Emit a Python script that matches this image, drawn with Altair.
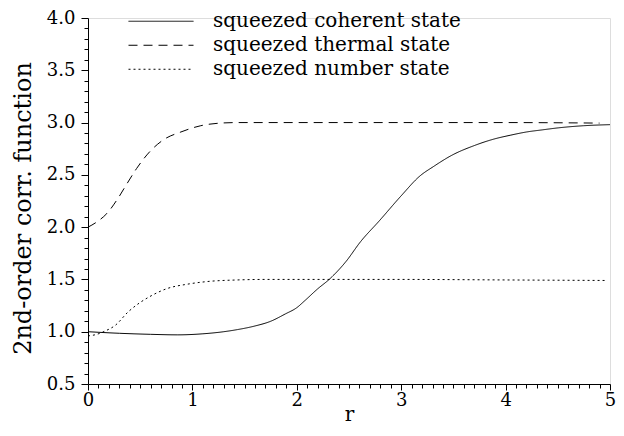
import altair as alt
import pandas as pd

# squeezed coherent state (solid)
r_coh = [0.0, 0.3, 0.6, 0.86, 1.1, 1.3, 1.43, 1.6, 1.75, 1.89, 2.0, 2.08, 2.2, 2.31, 2.47, 2.61, 2.79, 3.0, 3.18, 3.31, 3.49, 3.7, 3.88, 4.05, 4.2, 4.35, 4.51, 4.75, 5.0]
g_coh = [1.0, 0.985, 0.975, 0.97, 0.98, 1.0, 1.02, 1.055, 1.10, 1.17, 1.23, 1.30, 1.41, 1.50, 1.67, 1.86, 2.06, 2.30, 2.49, 2.58, 2.69, 2.78, 2.84, 2.88, 2.91, 2.93, 2.95, 2.97, 2.98]

# squeezed thermal state (dashed)
r_th = [0.0, 0.085, 0.18, 0.29, 0.37, 0.465, 0.59, 0.73, 0.89, 1.08, 1.27, 1.43, 1.7, 2.0, 3.0, 4.0, 4.9]
g_th = [2.0, 2.05, 2.13, 2.28, 2.41, 2.56, 2.72, 2.84, 2.91, 2.97, 2.995, 3.0, 3.0, 3.0, 3.0, 3.0, 2.995]

# squeezed number state (dotted)
r_num = [0.0, 0.085, 0.16, 0.26, 0.385, 0.5, 0.59, 0.75, 0.955, 1.145, 1.43, 1.7, 2.0, 3.0, 4.0, 4.95]
g_num = [0.96, 0.975, 1.005, 1.06, 1.19, 1.28, 1.335, 1.41, 1.455, 1.48, 1.495, 1.50, 1.50, 1.50, 1.495, 1.49]

names = ["squeezed coherent state", "squeezed thermal state", "squeezed number state"]

rows = []
for name, rs, gs in zip(names, [r_coh, r_th, r_num], [g_coh, g_th, g_num]):
    for i, (a, b) in enumerate(zip(rs, gs)):
        rows.append({"r": a, "g": b, "state": name, "order": i})
df = pd.DataFrame(rows)

x_ticks = [round(i * 0.1, 1) for i in range(0, 51)]
y_ticks = [round(0.5 + i * 0.1, 1) for i in range(0, 36)]

FONT = "DejaVu Serif, Liberation Serif, serif"

chart = alt.Chart(df).mark_line(strokeWidth=1, color="black", interpolate="monotone").encode(
    x=alt.X("r:Q", title="r",
            scale=alt.Scale(domain=[0, 5], nice=False, zero=False),
            axis=alt.Axis(values=x_ticks, grid=False, labelOverlap=False, labelFlush=False,
                          labelExpr="abs(datum.value - round(datum.value)) < 1e-6 ? format(datum.value, 'd') : ''",
                          tickSize={"condition": {"test": "abs(datum.value - round(datum.value)) < 1e-6", "value": 6}, "value": 4},
                          domainColor="black", tickColor="black", labelColor="black",
                          labelFont=FONT, labelFontSize=18, labelPadding=1,
                          titleFont=FONT, titleFontSize=20, titleFontWeight="normal", titleColor="black",
                          titlePadding=-5)),
    y=alt.Y("g:Q", title="2nd-order corr. function",
            scale=alt.Scale(domain=[0.5, 4.0], nice=False, zero=False),
            axis=alt.Axis(values=y_ticks, grid=False, labelOverlap=False, labelFlush=False,
                          labelExpr="abs(datum.value*2 - round(datum.value*2)) < 1e-6 ? format(datum.value, '.1f') : ''",
                          tickSize={"condition": {"test": "abs(datum.value*2 - round(datum.value*2)) < 1e-6", "value": 7}, "value": 4},
                          domainColor="black", tickColor="black", labelColor="black",
                          labelFont=FONT, labelFontSize=18, labelPadding=6,
                          titleFont=FONT, titleFontSize=24, titleFontWeight="normal", titleColor="black",
                          titlePadding=11, titleY=190)),
    strokeDash=alt.StrokeDash("state:N",
                              scale=alt.Scale(domain=names, range=[[1, 0], [9, 6], [2, 3]]),
                              legend=alt.Legend(title=None, orient="none", legendX=40, legendY=-8.5,
                                                symbolType="stroke", symbolSize=4225, clipHeight=23.5,
                                                symbolStrokeColor="black", symbolStrokeWidth=1,
                                                labelFont=FONT, labelFontSize=20, labelColor="black",
                                                labelLimit=0, labelOffset=19, rowPadding=0, padding=0)),
    order="order:Q",
).properties(
    width=522, height=366,
    padding={"left": 80, "top": 10, "right": 6, "bottom": 40},
    autosize="none",
).configure_view(stroke=None).configure(background="white")

chart.save("out.html", embed_options={"renderer": "svg", "actions": False})
